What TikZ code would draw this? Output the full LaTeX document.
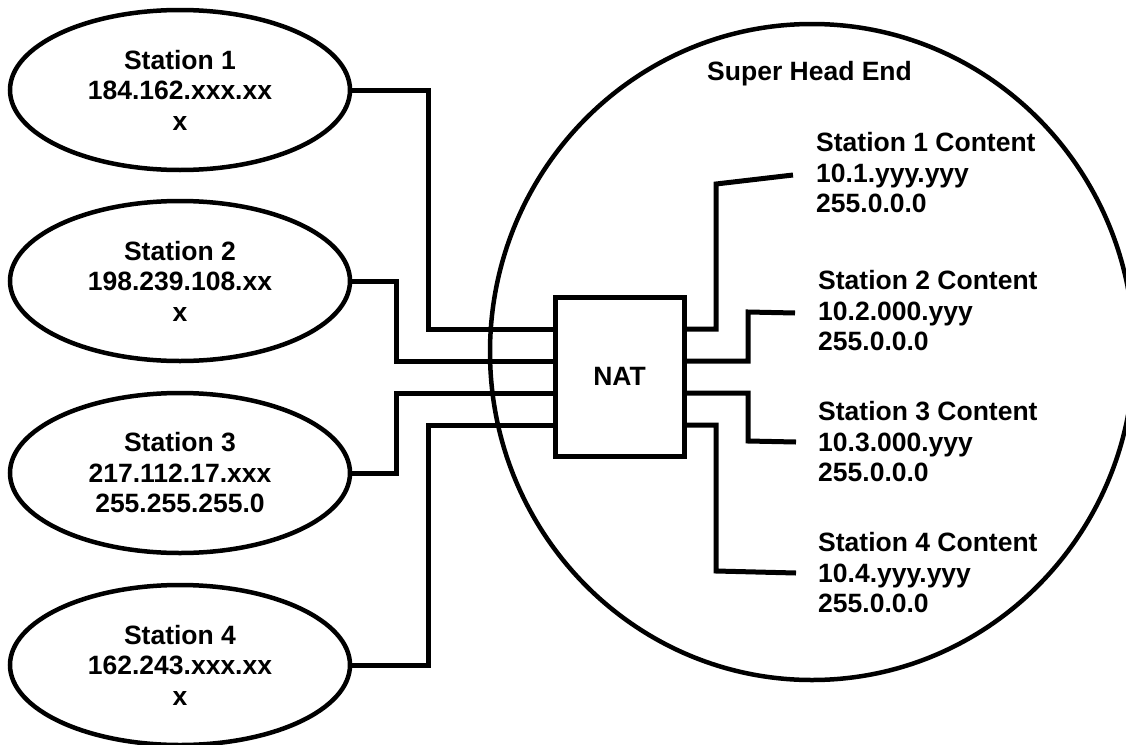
\documentclass[tikz,border=0pt]{standalone}
\usepackage{fontspec}
\setmainfont{Liberation Sans}
\usepackage{tikz}
\usetikzlibrary{shapes.geometric,calc}
\tikzset{
  netstation/.style = {ellipse, draw=black, line width=4.5pt, fill=white,
                       minimum width=340pt, minimum height=160pt, inner sep=0pt,
                       align=center, font=\bfseries\fontsize{26.5}{30.5}\selectfont},
  nethead/.style    = {ellipse, draw=black, line width=4.5pt,
                       minimum width=644pt, minimum height=656pt, inner sep=0pt},
  netnat/.style     = {rectangle, draw=black, line width=5pt, fill=white,
                       minimum width=129pt, minimum height=159pt, inner sep=0pt,
                       font=\bfseries\fontsize{26.5}{30.5}\selectfont},
  netcontent/.style = {anchor=west, align=left, inner sep=0pt,
                       font=\bfseries\fontsize{26.5}{30.5}\selectfont},
  netlink/.style    = {draw=black, line width=5pt},
}
\begin{document}
\begin{tikzpicture}[x=1pt,y=-1pt]
  \useasboundingbox (0,0) rectangle (1126,744);

  \node[nethead] (she) at (812,352) {};
  \node[netcontent] (shelbl) at (707,74) {Super Head End};

  \node[netstation] (st1) at (180,90)  {Station 1\\184.162.xxx.xx\\x};
  \node[netstation] (st2) at (180,281) {Station 2\\198.239.108.xx\\x};
  \node[netstation] (st3) at (180,473) {Station 3\\217.112.17.xxx\\255.255.255.0};
  \node[netstation] (st4) at (180,665) {Station 4\\162.243.xxx.xx\\x};

  \node[netnat] (nat) at (619.5,376.5) {NAT};

  \node[netcontent] (c1) at (816,173) {Station 1 Content\\10.1.yyy.yyy\\255.0.0.0};
  \node[netcontent] (c2) at (818,311) {Station 2 Content\\10.2.000.yyy\\255.0.0.0};
  \node[netcontent] (c3) at (818,442) {Station 3 Content\\10.3.000.yyy\\255.0.0.0};
  \node[netcontent] (c4) at (818,573) {Station 4 Content\\10.4.yyy.yyy\\255.0.0.0};

  \draw[netlink] (st1.east) -| (428,329) -- (nat.west |- 0,329);
  \draw[netlink] (st2.east) -| (396,361) -- (nat.west |- 0,361);
  \draw[netlink] (st3.east) -| (396,393) -- (nat.west |- 0,393);
  \draw[netlink] (st4.east) -| (428,425) -- (nat.west |- 0,425);

  \draw[netlink] (nat.east |- 0,329) -| (716,184) -- ([xshift=-23pt,yshift=-2pt]c1.west);
  \draw[netlink] (nat.east |- 0,361) -| (748,312) -- ([xshift=-23pt,yshift=-2pt]c2.west);
  \draw[netlink] (nat.east |- 0,393) -| (748,441) -- ([xshift=-22pt]c3.west);
  \draw[netlink] (nat.east |- 0,425) -| (716,571) -- ([xshift=-22pt]c4.west);
\end{tikzpicture}
\end{document}
